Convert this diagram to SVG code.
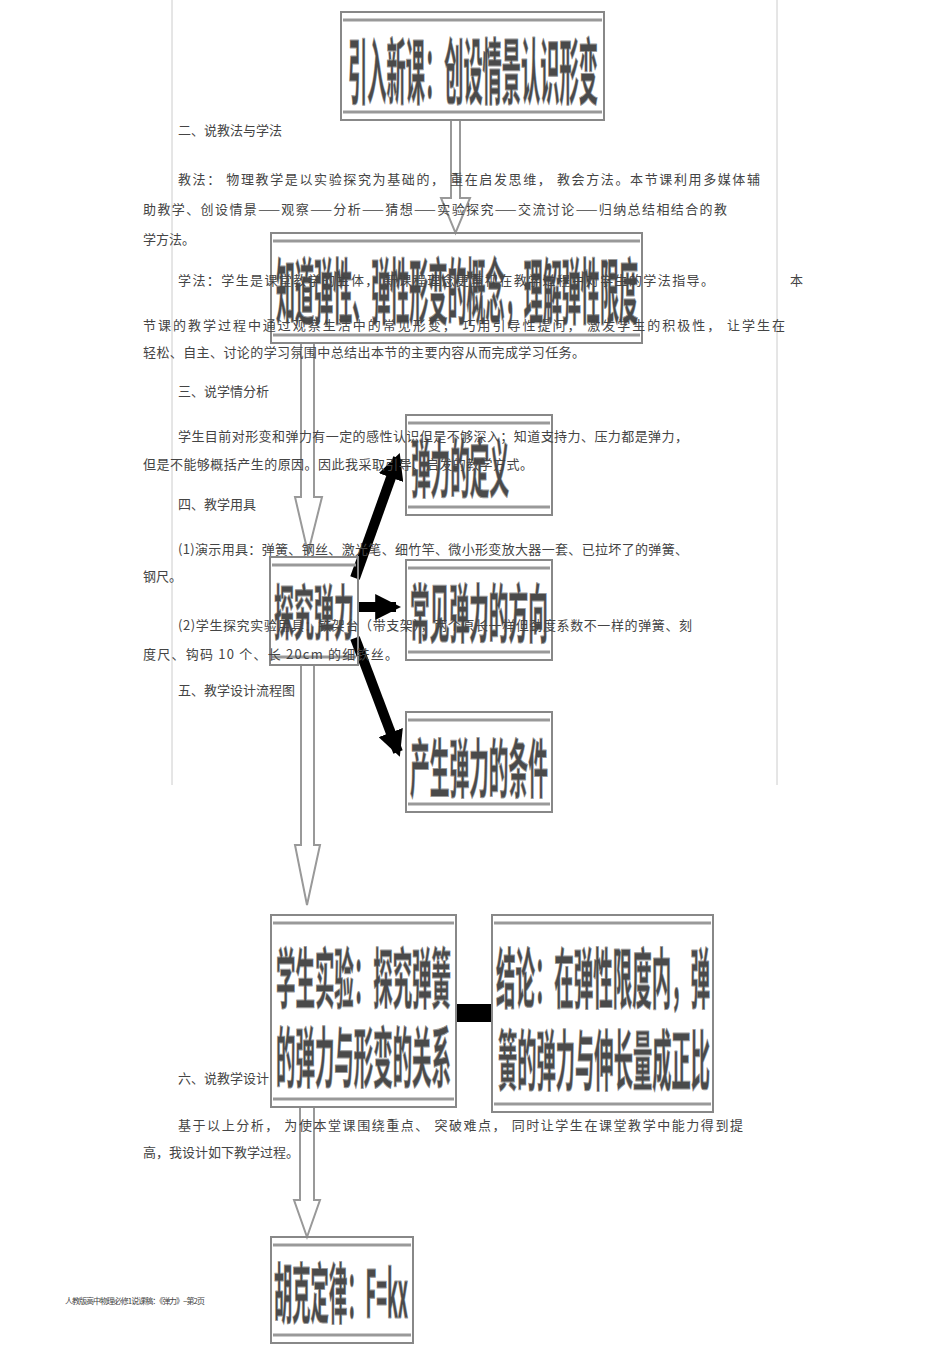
<svg xmlns="http://www.w3.org/2000/svg" width="950" height="1345" viewBox="0 0 950 1345">
<style>
.t{font-family:"Noto Sans CJK SC","Liberation Sans",sans-serif;font-size:13px;fill:#444}
.b{font-family:"Noto Sans CJK SC","Liberation Sans",sans-serif;font-weight:700;fill:#4a4a4a;stroke:#999;stroke-width:1}
.box{fill:none;stroke:#888;stroke-width:2}
.band{stroke:#999;stroke-width:3;fill:none}
.ha{fill:none;stroke:#999;stroke-width:2}
.thick{stroke:#000;stroke-width:10;fill:none}
</style>
<defs>
<marker id="ah" viewBox="0 0 10 10" refX="8" refY="5" markerWidth="2.6" markerHeight="2.6" orient="auto"><path d="M0,0L10,5L0,10z" fill="#000"/></marker>
</defs>
<line x1="172" y1="0" x2="172" y2="785" stroke="#ccc"/>
<line x1="777" y1="0" x2="777" y2="785" stroke="#ccc"/>
<g id="connectors">
<path class="ha" d="M451,120V198H441L455.5,233L470,198H460V120"/>
<path class="ha" d="M301,343V497H295L308,553L322,497H314V343"/>
<path class="ha" d="M301,665V845H295L307,905L320,845H314V665"/>
<path class="ha" d="M300,1107V1200H294L307,1237L320,1200H314V1107"/>
<path class="thick" d="M355,578L398,458" marker-end="url(#ah)"/>
<path class="thick" d="M358,607H396" marker-end="url(#ah)"/>
<path class="thick" d="M355,638L398,752" marker-end="url(#ah)"/>
<path d="M456,1013H492" stroke="#000" stroke-width="18"/>
</g>
<g id="n1"><rect class="box" x="341" y="12" width="263" height="108"/><path class="band" d="M343,20H602M343,112H602"/>
<text class="b" x="348" y="98" font-size="72" textLength="250" lengthAdjust="spacingAndGlyphs">引入新课：创设情景认识形变</text></g>
<g id="n2"><rect class="box" x="271" y="233" width="371" height="110"/><path class="band" d="M273,241H640M273,335H640"/>
<text class="b" x="276" y="318" font-size="72" textLength="362" lengthAdjust="spacingAndGlyphs">知道弹性、弹性形变的概念，理解弹性限度</text></g>
<g id="n3"><rect class="box" x="270" y="557" width="88" height="108"/><path class="band" d="M272,565H356M272,657H356"/>
<text class="b" x="274" y="635" font-size="60" textLength="80" lengthAdjust="spacingAndGlyphs">探究弹力</text></g>
<g id="n4"><rect class="box" x="406" y="415" width="146" height="100"/><path class="band" d="M408,423H550M408,507H550"/>
<text class="b" x="411" y="492" font-size="64" textLength="98" lengthAdjust="spacingAndGlyphs">弹力的定义</text></g>
<g id="n5"><rect class="box" x="406" y="560" width="146" height="100"/><path class="band" d="M408,568H550M408,652H550"/>
<text class="b" x="410" y="637" font-size="64" textLength="138" lengthAdjust="spacingAndGlyphs">常见弹力的方向</text></g>
<g id="n6"><rect class="box" x="406" y="712" width="146" height="100"/><path class="band" d="M408,720H550M408,804H550"/>
<text class="b" x="410" y="792" font-size="64" textLength="138" lengthAdjust="spacingAndGlyphs">产生弹力的条件</text></g>
<g id="n7"><rect class="box" x="271" y="915" width="185" height="192"/><path class="band" d="M273,923H454M273,1099H454"/>
<text class="b" x="276" y="1003" font-size="66" textLength="175" lengthAdjust="spacingAndGlyphs">学生实验：探究弹簧</text>
<text class="b" x="276" y="1082" font-size="66" textLength="175" lengthAdjust="spacingAndGlyphs">的弹力与形变的关系</text></g>
<g id="n8"><rect class="box" x="492" y="915" width="221" height="197"/><path class="band" d="M494,923H711M494,1104H711"/>
<text class="b" x="496" y="1003" font-size="66" textLength="214" lengthAdjust="spacingAndGlyphs">结论：在弹性限度内，弹</text>
<text class="b" x="498" y="1085" font-size="66" textLength="212" lengthAdjust="spacingAndGlyphs">簧的弹力与伸长量成正比</text></g>
<g id="n9"><rect class="box" x="271" y="1237" width="142" height="106"/><path class="band" d="M273,1245H411M273,1335H411"/>
<text class="b" x="274" y="1318" font-size="66" textLength="134" lengthAdjust="spacingAndGlyphs">胡克定律：F=kx</text></g>
<g id="text">
<text class="t" x="178" y="135">二、说教法与学法</text>
<text class="t" x="178" y="184" textLength="582">教法：  物理教学是以实验探究为基础的，     重在启发思维，   教会方法。本节课利用多媒体辅</text>
<text class="t" x="143" y="214" textLength="584">助教学、创设情景——观察——分析——猜想——实验探究——交流讨论——归纳总结相结合的教</text>
<text class="t" x="143" y="244">学方法。</text>
<text class="t" x="178" y="285" textLength="536">学法：学生是课堂教学的主体，     新课程理念更重视在教学过程中对学生的学法指导。</text>
<text class="t" x="790" y="285">本</text>
<text class="t" x="143" y="330" textLength="642">节课的教学过程中通过观察生活中的常见形变，     巧用引导性提问，    激发学生的积极性，    让学生在</text>
<text class="t" x="143" y="357" textLength="442">轻松、自主、讨论的学习氛围中总结出本节的主要内容从而完成学习任务。</text>
<text class="t" x="178" y="396">三、说学情分析</text>
<text class="t" x="178" y="441" textLength="510">学生目前对形变和弹力有一定的感性认识但是不够深入；知道支持力、压力都是弹力，</text>
<text class="t" x="143" y="469" textLength="390">但是不能够概括产生的原因。因此我采取引导、启发的教学方式。</text>
<text class="t" x="178" y="509">四、教学用具</text>
<text class="t" x="178" y="554" textLength="510">(1)演示用具：弹簧、钢丝、激光笔、细竹竿、微小形变放大器一套、已拉坏了的弹簧、</text>
<text class="t" x="143" y="581">钢尺。</text>
<text class="t" x="178" y="630" textLength="514">(2)学生探究实验用具：铁架台（带支架），两个原长一样但劲度系数不一样的弹簧、刻</text>
<text class="t" x="143" y="659" textLength="255">度尺、钩码   10 个、长  20cm   的细铁丝。</text>
<text class="t" x="178" y="695">五、教学设计流程图</text>
<text class="t" x="178" y="1083">六、说教学设计</text>
<text class="t" x="178" y="1130" textLength="565">基于以上分析，     为使本堂课围绕重点、     突破难点，     同时让学生在课堂教学中能力得到提</text>
<text class="t" x="143" y="1157">高，我设计如下教学过程。</text>
<text class="t" x="65" y="1304" style="font-size:8px" textLength="140">人教版高中物理必修1说课稿：《弹力》--第2页</text>
</g>
</svg>
